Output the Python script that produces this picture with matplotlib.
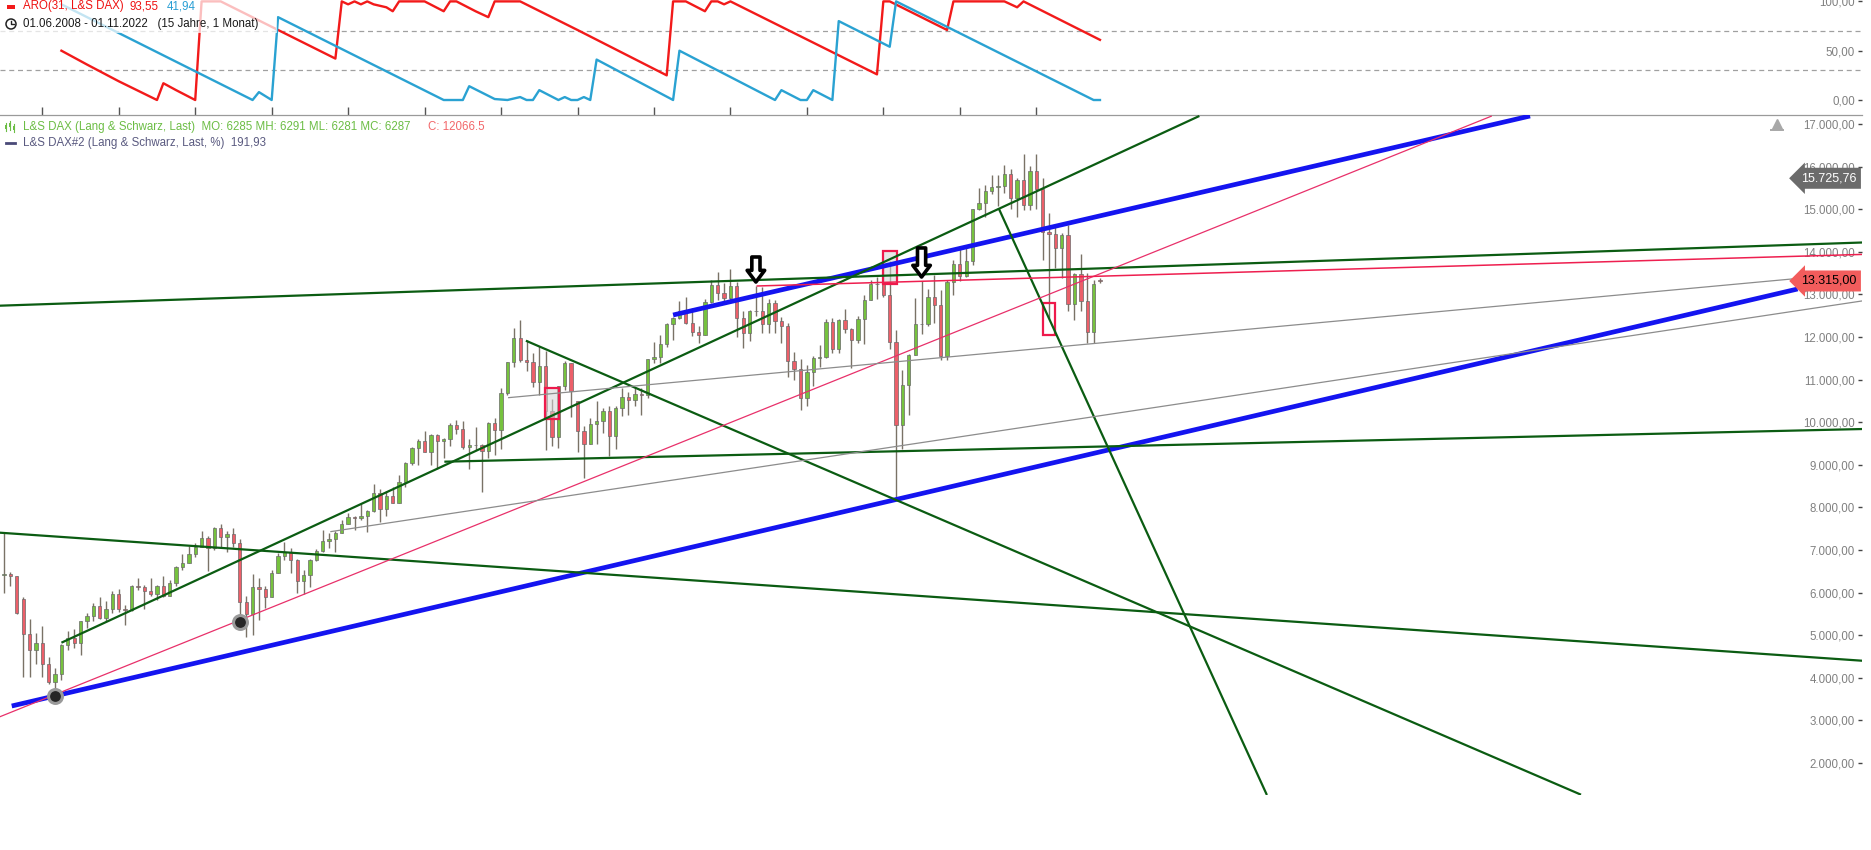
import numpy as np
import pandas as pd
import matplotlib
matplotlib.use('Agg')
from matplotlib import pyplot as plt
from matplotlib import transforms
from matplotlib.patches import Rectangle, Circle
from matplotlib.lines import Line2D
from matplotlib.ticker import FuncFormatter

plt.rcParams['font.family'] = ['Liberation Sans', 'DejaVu Sans']

# =================================
# Data: monthly L&S DAX candles, 06.2008 - 11.2022
# =================================
months = pd.date_range('2008-06-01', '2022-11-01', freq='MS')

opens = [
    7050, 6420, 6440, 6390, 5850, 5020, 4660,
    4810, 4330, 3900, 4085, 4769, 4941, 4809, 5332, 5458, 5675, 5415, 5625,
    5957, 5608, 5598, 6154, 6136, 6047, 5966, 6148, 5925, 6229, 6601, 6688,
    6914, 7077, 7272, 7041, 7514, 7294, 7376, 7159, 5785, 5502, 6141, 6089,
    5898, 6458, 6856, 6947, 6761, 6264, 6416, 6772, 6971, 7216, 7260, 7406,
    7612, 7776, 7742, 7795, 7914, 8349, 7959, 8276, 8103, 8594, 9033, 9406,
    9552, 9306, 9692, 9556, 9603, 9943, 9833, 9407, 9470, 9474, 9327, 9980,
    9806, 10694, 11402, 11966, 11454, 11414, 10945, 11309, 10259, 9660, 10850, 11382,
    10486, 9798, 9495, 9966, 10039, 10263, 9680, 10337, 10593, 10511, 10665, 10640,
    11481, 11535, 11834, 12313, 12438, 12615, 12325, 12118, 12056, 12829, 13230, 13024,
    12918, 13189, 12436, 12097, 12612, 12605, 12306, 12806, 12364, 12247, 11447, 11257,
    10559, 11173, 11516, 11526, 12344, 11727, 12399, 12189, 11939, 12428, 12867, 13236,
    13249, 12982, 11891, 9936, 10862, 11587, 12311, 12313, 12945, 12761, 11556, 13291,
    13719, 13433, 13786, 15008, 15136, 15421, 15531, 15544, 15835, 15260, 15688, 15100,
    15885, 15471, 14461, 14415, 14098, 14388, 12784, 13484, 12835, 12114, 13340,
]
highs = [
    7230, 7400, 6480, 6400, 5900, 5380, 5050,
    5220, 4500, 4230, 4800, 5090, 5150, 5330, 5530, 5760, 5890, 5800, 6030,
    6090, 5700, 6170, 6340, 6190, 6350, 6190, 6390, 6300, 6620, 6900, 7090,
    7170, 7440, 7320, 7530, 7600, 7450, 7520, 7250, 5920, 6430, 6350, 6150,
    6540, 6920, 7190, 7040, 6800, 6540, 6800, 7030, 7480, 7400, 7440, 7700,
    7870, 7800, 8080, 7930, 8560, 8430, 8390, 8480, 8770, 9070, 9420, 9600,
    9790, 9720, 9720, 9640, 9970, 10050, 10030, 9600, 9890, 9480, 10000, 10090,
    10810, 11420, 12220, 12390, 11920, 11630, 11800, 11670, 10540, 10850, 11430, 11390,
    10500, 9900, 10100, 10490, 10330, 10380, 10370, 10800, 10700, 10830, 10800, 11490,
    11890, 12050, 12320, 12480, 12840, 12950, 12680, 12260, 12900, 13330, 13530, 13270,
    13600, 13280, 12600, 12640, 13200, 13170, 12890, 12880, 12460, 12340, 11650, 11480,
    11350, 11560, 11820, 12420, 12440, 12430, 12660, 12200, 12490, 12980, 13340, 13420,
    13640, 13795, 12160, 11230, 11610, 12910, 13310, 13130, 13460, 13100, 13340, 13800,
    14130, 14170, 15010, 15500, 15570, 15800, 15810, 16030, 15950, 15740, 16290, 16020,
    16285, 15740, 14920, 14600, 14450, 14640, 13500, 13950, 13500, 13330, 13390,
]
lows = [
    6380, 5990, 6150, 5500, 4026, 4030, 4330,
    4020, 3860, 3573, 3940, 4660, 4690, 4530, 5180, 5330, 5380, 5330, 5520,
    5540, 5250, 5560, 6060, 5610, 5920, 5830, 5900, 5920, 6150, 6540, 6690,
    6840, 7070, 6510, 7000, 7080, 6950, 7080, 5317, 4965, 5000, 5360, 5640,
    5900, 6450, 6770, 6470, 6000, 5970, 6140, 6750, 6950, 7050, 6950, 7400,
    7600, 7480, 7700, 7420, 7900, 7650, 7800, 8100, 8100, 8480, 8990, 9000,
    9290, 8990, 8910, 9160, 9450, 9730, 9370, 8900, 9350, 8350, 9170, 9220,
    9380, 10640, 11300, 11420, 11200, 10830, 10650, 9340, 9430, 9390, 10750, 10120,
    9310, 8700, 9480, 9480, 9740, 9210, 9380, 10140, 10170, 10370, 10170, 10560,
    11400, 11400, 11770, 11930, 12430, 12300, 12030, 11870, 12050, 12800, 12860, 12850,
    12880, 12000, 11730, 11900, 12500, 12100, 12100, 12100, 11860, 11050, 11000, 10280,
    10390, 10860, 11300, 11500, 11620, 11620, 12090, 11270, 11870, 11840, 12860, 12890,
    12950, 11720, 8220, 9380, 10160, 11580, 12080, 12250, 12340, 11450, 11450, 12990,
    13310, 13420, 13700, 14980, 14820, 15350, 15070, 15390, 15000, 14820, 14970, 14980,
    15000, 13800, 12440, 13620, 13380, 12600, 12390, 12620, 11860, 11870, 13260,
]
closes = [
    6418, 6440, 6400, 5520, 5020, 4650, 4810,
    4330, 3900, 4085, 4769, 4941, 4809, 5332, 5458, 5675, 5415, 5625, 5957,
    5608, 5598, 6154, 6136, 6047, 5966, 6148, 5925, 6229, 6601, 6688, 6914,
    7077, 7272, 7041, 7514, 7294, 7376, 7159, 5785, 5502, 6141, 6089, 5898,
    6458, 6856, 6947, 6761, 6264, 6416, 6772, 6971, 7216, 7260, 7406, 7612,
    7776, 7742, 7795, 7914, 8349, 7959, 8276, 8103, 8594, 9033, 9406, 9552,
    9306, 9692, 9556, 9603, 9943, 9833, 9407, 9470, 9474, 9327, 9980, 9806,
    10694, 11402, 11966, 11454, 11414, 10945, 11309, 10259, 9660, 10850, 11382, 10743,
    9798, 9495, 9966, 10039, 10263, 9680, 10337, 10593, 10511, 10665, 10640, 11481,
    11535, 11834, 12313, 12438, 12615, 12325, 12118, 12056, 12829, 13230, 13024, 12918,
    13189, 12436, 12097, 12612, 12605, 12306, 12806, 12364, 12247, 11447, 11257, 10559,
    11173, 11516, 11526, 12344, 11727, 12399, 12189, 11939, 12428, 12867, 13236, 13249,
    12982, 11891, 9936, 10862, 11587, 12311, 12313, 12945, 12761, 11556, 13291, 13719,
    13433, 13786, 15008, 15136, 15421, 15531, 15544, 15835, 15260, 15688, 15100, 15885,
    15471, 14461, 14415, 14098, 14388, 12784, 13484, 12835, 12114, 13253, 13315,
]

# Aroon(31): (month index, value) break points
aro_up_m = [10, 14, 19, 25, 26, 28, 31, 32, 35, 53, 54, 55, 56, 57, 58, 59, 61, 62, 63, 67,
            70, 71, 72, 75, 77, 78, 82, 91, 105, 106, 108, 111, 112, 113, 114, 115, 138, 139,
            140, 149, 150, 158, 160, 161, 173]
aro_up_v = [50, 36, 19, 0, 17, 10, 0, 100, 100, 42, 100, 97, 100, 97, 100, 97, 94, 90, 100, 100,
            90, 100, 100, 90, 84, 100, 100, 71, 25, 100, 100, 90, 100, 100, 97, 100, 26, 100,
            100, 71, 100, 100, 94, 100, 61]
aro_dn_m = [10, 40, 41, 43, 44, 70, 73, 74, 78, 80, 82, 83, 84, 85, 88, 89, 90, 91, 92, 93,
            94, 106, 107, 122, 123, 126, 127, 128, 131, 132, 140, 141, 172, 173]
aro_dn_v = [97, 0, 8, 0, 84, 0, 0, 14, 1, 0, 3, 0, 0, 10, 0, 3, 0, 0, 3, 0,
            41, 0, 50, 0, 10, 0, 0, 10, 0, 80, 54, 100, 0, 0]

# drawn trend lines: (month index, price) start and end
line_x0 = [2.2, 106.0, 10.0, -1, 70.1, -1, 82.9, 157.1, -1, 119.1, 80.1, 52.2]
line_y0 = [3338, 12516, 4824, 12728, 9073, 7420, 11913, 15021, 3005, 13197, 10575, 7430]
line_x1 = [282.5, 240.5, 188.6, 293, 293, 293, 248.5, 199.2, 234.5, 293, 282.4, 293]
line_y1 = [13127, 17188, 17188, 14220, 9841, 4397, 1256, 1249, 17188, 13940, 13373, 12855]
line_kind = ['blue', 'blue', 'green', 'green', 'green', 'green', 'green', 'green',
             'pink', 'red', 'grey', 'grey']

# markers, arrows, boxes
marker_m = [9, 38]
marker_p = [3573, 5317]
arrow_m = [119, 145]
arrow_tip = [13290, 13408]
arrow_top = [13878, 14090]
box_m0 = [85.9, 139.0, 164.0]
box_m1 = [88.1, 141.1, 166.0]
box_p0 = [10075, 13244, 12047]
box_p1 = [10803, 14026, 12790]
box_filled = [True, True, False]

last_marks = [15725.76, 13315.00]

# =================================
# Styles
# =================================
W, H = 1871, 850
GREEN, RED, WICK, EDGE = '#76c23e', '#ec5f69', '#7a7266', '#6a6a6a'
LINE_STYLE = {
    'blue': dict(color='#1414f0', lw=3.4),
    'green': dict(color='#0b5c12', lw=1.6),
    'pink': dict(color='#e8306a', lw=0.9),
    'red': dict(color='#ee1f4f', lw=1.1),
    'grey': dict(color='#8c8c8c', lw=0.9),
}
LABEL_GREY = '#808080'
FS = 8.3


def de_fmt(v, pos=None):
    s = f"{v:,.2f}"
    return s.replace(',', 'X').replace('.', ',').replace('X', '.')


def P(x, y):
    return (x / W, 1 - y / H)


fig = plt.figure(figsize=(W / 100, H / 100), dpi=100)
ax_top = fig.add_axes([0, 1 - 115 / H, 1862 / W, 115 / H])
ax = fig.add_axes([0, 1 - 795 / H, 1862 / W, 680 / H])
ax.patch.set_visible(False)

xlo, xhi = 0.36, 292.6
for a in (ax_top, ax):
    a.set_xlim(xlo, xhi)
    for s in a.spines.values():
        s.set_visible(False)
    a.yaxis.tick_right()
    a.tick_params(axis='y', direction='in', length=3, width=1, color='#444444',
                  pad=-5, labelsize=FS, labelcolor=LABEL_GREY)
    a.yaxis.set_major_formatter(FuncFormatter(de_fmt))

# ---- Aroon panel
ax_top.set_ylim(-15.2, 101.4)
ax_top.set_yticks([0, 50, 100])
ax_top.spines['bottom'].set_visible(True)
ax_top.spines['bottom'].set_color('#9a9a9a')
ax_top.spines['bottom'].set_linewidth(0.9)
jan = [i for i, m in enumerate(months) if m.month == 1]
ax_top.set_xticks(jan)
ax_top.tick_params(axis='x', direction='in', length=6, width=1, color='#555555',
                   labelbottom=False)
for lvl in (30, 70):
    ax_top.axhline(lvl, color='#a0a0a0', lw=0.9, dashes=(4, 3), zorder=1)
ax_top.plot(aro_up_m, aro_up_v, color='#f21a1a', lw=1.7, zorder=3)
ax_top.plot(aro_dn_m, aro_dn_v, color='#2aa2d2', lw=1.7, zorder=3)

# faded legend background
ax_top.add_patch(Rectangle(P(0, 33), 277 / W, 33 / H, transform=fig.transFigure,
                           fc='white', ec='none', alpha=0.72, zorder=5))

# ---- price panel
ax.set_ylim(1249, 17211)
ax.set_yticks(range(2000, 17001, 1000))
ax.set_xticks([])

idx = np.arange(len(closes))
o, h, l, c = map(np.array, (opens, highs, lows, closes))
up = c >= o
ax.vlines(idx, l, h, color=WICK, lw=1, zorder=2)
ax.bar(idx[up], (c - o)[up], bottom=o[up], width=0.52, color=GREEN,
       edgecolor=EDGE, lw=0.5, zorder=3)
ax.bar(idx[~up], (o - c)[~up], bottom=c[~up], width=0.52, color=RED,
       edgecolor=EDGE, lw=0.5, zorder=3)

for m0, m1, p0, p1, filled in zip(box_m0, box_m1, box_p0, box_p1, box_filled):
    ax.add_patch(Rectangle((m0, p0), m1 - m0, p1 - p0,
                           fc=(0.84, 0.84, 0.84, 0.55) if filled else 'none',
                           ec='#ee1a4c', lw=1.6, zorder=4))

for x0, y0, x1, y1, kind in zip(line_x0, line_y0, line_x1, line_y1, line_kind):
    ax.plot([x0, x1], [y0, y1], solid_capstyle='butt', zorder=5, **LINE_STYLE[kind])

ax.plot(marker_m, marker_p, 'o', ms=10, mfc='#262626', mec='#9a9a9a', mew=2.2, zorder=6)

for m, tip, top in zip(arrow_m, arrow_tip, arrow_top):
    ax.annotate('', xy=(m, tip), xytext=(m, top),
                arrowprops=dict(arrowstyle='simple,head_width=0.9,head_length=0.6,tail_width=0.42',
                                fc='white', ec='black', lw=2.6, mutation_scale=14,
                                shrinkA=0, shrinkB=0), zorder=7)

# last price tags on the right
tag = transforms.blended_transform_factory(ax.transAxes, ax.transData)
ax.text(0.997, last_marks[0], de_fmt(last_marks[0]), transform=tag, ha='right', va='center',
        fontsize=FS + 0.7, color='white', zorder=8,
        bbox=dict(boxstyle='larrow,pad=0.36', fc='#6b6b6b', ec='none'))
ax.text(0.997, last_marks[1], de_fmt(last_marks[1]), transform=tag, ha='right', va='center',
        fontsize=FS + 0.7, color='black', zorder=8,
        bbox=dict(boxstyle='larrow,pad=0.36', fc='#f25c5c', ec='none'))

for lbl in ax.get_yticklabels() + ax_top.get_yticklabels():
    lbl.set_horizontalalignment('right')

# small scroll icon near the top right
fig.add_artist(Line2D([1776.7 / W], [1 - 124 / H], marker='^', ms=7, color='#a8a8a8',
                      transform=fig.transFigure))
fig.add_artist(Line2D([1771 / W, 1783 / W], [1 - 130 / H, 1 - 130 / H], lw=1.4,
                      color='#a8a8a8', transform=fig.transFigure))

# =================================
# Legend texts
# =================================
fig.add_artist(Rectangle(P(7, 8.5), 8 / W, 3 / H, fc='#f21a1a', ec='none',
                         transform=fig.transFigure))
fig.text(*P(22.7, 6.5), 'ARO(31, L&S DAX)', color='#ee1111', fontsize=FS, va='center')
fig.text(*P(130, 6.5), '93,55', color='#ee1111', fontsize=FS, va='center')
fig.text(*P(166.7, 6.5), '41,94', color='#2a9fd4', fontsize=FS, va='center')

fig.add_artist(Circle((11 / 100, (H - 24) / 100), 0.05, transform=fig.dpi_scale_trans,
                      fc='white', ec='#222222', lw=1.1))
fig.add_artist(Line2D([11 / W, 11 / W, 13.5 / W], [1 - 20.5 / H, 1 - 24 / H, 1 - 24 / H],
                      color='#222222', lw=1, transform=fig.transFigure))
fig.text(*P(22.7, 24), '01.06.2008 - 01.11.2022   (15 Jahre, 1 Monat)', color='#1a1a1a',
         fontsize=FS, va='center')

for xx, (y0, y1, b0, b1) in zip([6, 10, 14], [(123, 131, 125, 129), (121, 130, 123, 127),
                                             (124, 132, 126, 130)]):
    fig.add_artist(Line2D([xx / W, xx / W], [1 - y0 / H, 1 - y1 / H], color='#6cbd45', lw=0.8,
                          transform=fig.transFigure))
    fig.add_artist(Rectangle(P(xx - 1, b1), 2 / W, (b1 - b0) / H, fc='#6cbd45', ec='none',
                             transform=fig.transFigure))
fig.text(*P(22.7, 126.7), 'L&S DAX (Lang & Schwarz, Last)  MO: 6285 MH: 6291 ML: 6281 MC: 6287',
         color='#6cbd45', fontsize=FS, va='center')
fig.text(*P(428.3, 126.7), 'C: 12066.5', color='#f2676a', fontsize=FS, va='center')

fig.add_artist(Line2D([6 / W, 15 / W], [1 - 143 / H, 1 - 143 / H], color='#4a4a78', lw=2,
                      transform=fig.transFigure))
fig.text(*P(22.7, 143), 'L&S DAX#2 (Lang & Schwarz, Last, %)  191,93', color='#5a5a80',
         fontsize=FS, va='center')

fig.savefig('out.png', dpi=100)
